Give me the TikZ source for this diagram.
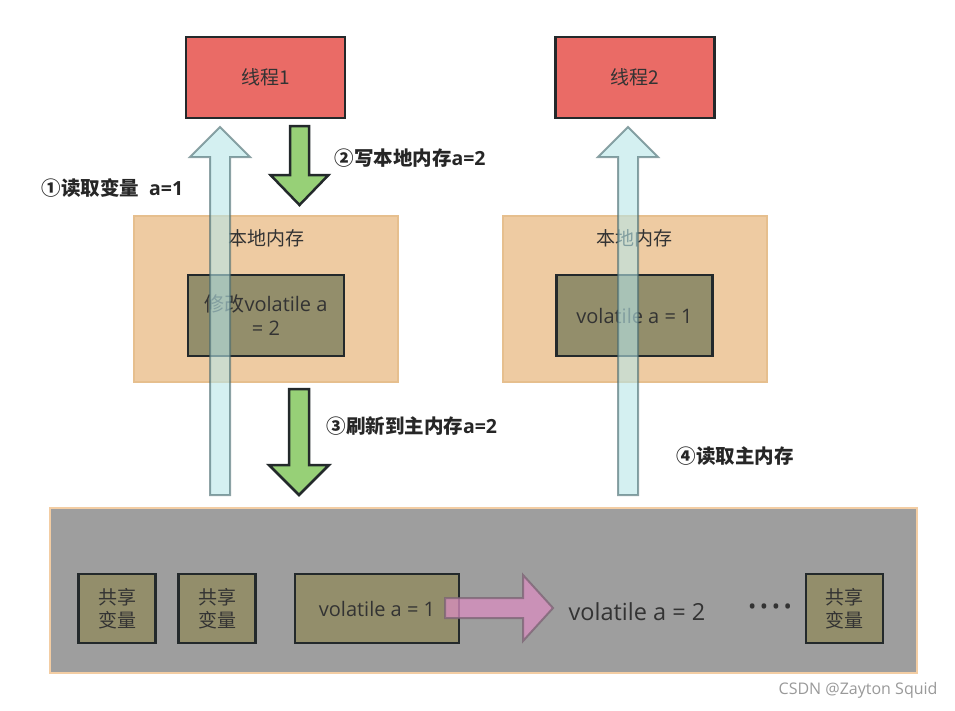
\documentclass[tikz,border=0pt]{standalone}
\usepackage{fontspec}
\setmainfont{Open Sans}
\newfontfamily\cjk{Noto Sans CJK SC}
\usepackage{xcolor}
\usetikzlibrary{positioning, calc}
\definecolor{thread_red}{HTML}{EA6B66}
\definecolor{edge_dark}{HTML}{23292B}
\definecolor{local_fill}{HTML}{EECBA2}
\definecolor{local_edge}{HTML}{E6BF8E}
\definecolor{olive_fill}{HTML}{938E6B}
\definecolor{main_fill}{HTML}{9E9E9E}
\definecolor{main_edge}{HTML}{F3CDA3}
\definecolor{read_fill}{HTML}{B7E6E8}
\definecolor{read_edge}{HTML}{44666B}
\definecolor{write_fill}{HTML}{97D077}
\definecolor{copy_fill}{HTML}{D98DC0}
\definecolor{copy_edge}{HTML}{7A6373}
\definecolor{text_gray}{HTML}{333333}

% fat block arrow: #1 style, #2 tail, #3 tip, #4 half shaft, #5 half head
\newcommand{\fatarrow}[5]{%
  \path ($(#3)!30pt!(#2)$) coordinate (hb);
  \draw[#1] ($(#2)!#4!90:(#3)$) -- ($(hb)!#4!90:(#3)$) -- ($(hb)!#5!90:(#3)$) -- (#3)
    -- ($(hb)!#5!-90:(#3)$) -- ($(hb)!#4!-90:(#3)$) -- ($(#2)!#4!-90:(#3)$) -- cycle;
}

\begin{document}
\begin{tikzpicture}[
    % --- Global Settings ---
    % one unit is one pixel of the reference, y runs downwards
    x=1pt, y=-1pt,
    every node/.style={font=\fontsize{19}{24}\selectfont, text=text_gray}
  ]

  % --- Style Definitions ---
  \tikzset{
    % thread boxes on top
    thread/.style={
      draw=edge_dark, line width=2.5pt, fill=thread_red,
      minimum width=159pt, minimum height=81pt
    },
    % local memory of each thread
    localmem/.style={
      draw=local_edge, line width=2pt, fill=local_fill,
      minimum width=264pt, minimum height=166pt
    },
    % variable boxes
    varbox/.style={
      draw=edge_dark, line width=2.5pt, fill=olive_fill,
      minimum width=156pt, minimum height=81pt, align=center,
      font=\fontsize{20}{24}\selectfont
    },
    shared/.style={varbox, minimum width=77pt, minimum height=69pt,
      font=\fontsize{19}{23}\selectfont\cjk},
    % main memory
    mainmem/.style={
      draw=main_edge, line width=2pt, fill=main_fill,
      minimum width=867pt, minimum height=165pt
    },
    % the block arrows
    readarrow/.style={fill=read_fill, draw=read_edge, line width=2pt, opacity=0.6},
    writearrow/.style={fill=write_fill, draw=edge_dark, line width=2.5pt},
    copyarrow/.style={fill=copy_fill, draw=copy_edge, line width=2pt, opacity=0.75},
    % step texts
    note/.style={anchor=west, font=\fontsize{19.5}{23}\selectfont\bfseries, text=black!85}
  }

  \useasboundingbox (0,0) rectangle (955,710);

  % --- Node Placement ---
  % Threads
  \node[thread] (thread1) at (265.5,77.5) {\cjk 线程1};
  \node[thread] (thread2) at (635,77.5) {\cjk 线程2};

  % Local memories
  \node[localmem] (lm1) at (266,299) {};
  \node (lm1_title) at ([yshift=-23pt]lm1.north) {\cjk 本地内存};
  \node[varbox] (copy1) at ([yshift=-16.5pt]lm1.center) {{\cjk 修改}volatile a\\= 2};

  \node[localmem] (lm2) at (634.5,299) {};
  \node (lm2_title) at ([yshift=-23pt]lm2.north) {\cjk 本地内存};
  \node[varbox] (copy2) at ([yshift=-16.5pt]lm2.center) {\raisebox{-3pt}{volatile a = 1}};

  % Main memory
  \node[mainmem] (main) at (483.5,590.5) {};
  \node[shared] (share1) at (117,608.5) {共享\\变量};
  \node[shared] (share2) [right=20.5pt of share1] {共享\\变量};
  \node[varbox, minimum width=164pt, minimum height=69pt] (vol1) at (377,608.5) {\raisebox{-3pt}{volatile a = 1}};
  \node[shared] (share3) at (844.5,608.5) {共享\\变量};
  \node (vol2) at (637,612) {\fontsize{23.5}{27}\selectfont volatile a = 2};
  \node (dots) at (770,609) {\fontsize{22}{26}\selectfont\textbullet\kern3.5pt\textbullet\kern3.5pt\textbullet\kern3.5pt\textbullet};

  % Step texts
  \node[note] (step1) at (38,188) {{\cjk ①读取变量} \kern5pt a=1};
  \node[note] (step2) at (331,158) {{\cjk ②写本地内存}a=2};
  \node[note] (step3) at (323,426) {{\cjk ③刷新到主内存}a=2};
  \node[note] (step4) at (673,456) {\cjk ④读取主内存};

  \node[font=\fontsize{16}{18}\selectfont, text=black!40, anchor=east] (mark) at (941,690) {CSDN @Zayton Squid};

  % --- Block Arrows ---
  \coordinate (read1_tail) at (220,495);
  \coordinate (read1_tip) at (220,127);
  \coordinate (read2_tail) at (628,495);
  \coordinate (read2_tip) at (628,127);
  \coordinate (write_tail) at (299.5,126);
  \coordinate (write_tip) at (299.5,205);
  \coordinate (flush_tail) at (299,389);
  \coordinate (flush_tip) at (299,495);
  \coordinate (copy_tail) at (445,608);
  \coordinate (copy_tip) at (553,608);

  \fatarrow{writearrow}{write_tail}{write_tip}{9.5pt}{29pt}
  \fatarrow{writearrow}{flush_tail}{flush_tip}{10pt}{30pt}
  \fatarrow{readarrow}{read1_tail}{read1_tip}{10pt}{30pt}
  \fatarrow{readarrow}{read2_tail}{read2_tip}{10pt}{30pt}
  \fatarrow{copyarrow}{copy_tail}{copy_tip}{10pt}{33pt}

\end{tikzpicture}
\end{document}
